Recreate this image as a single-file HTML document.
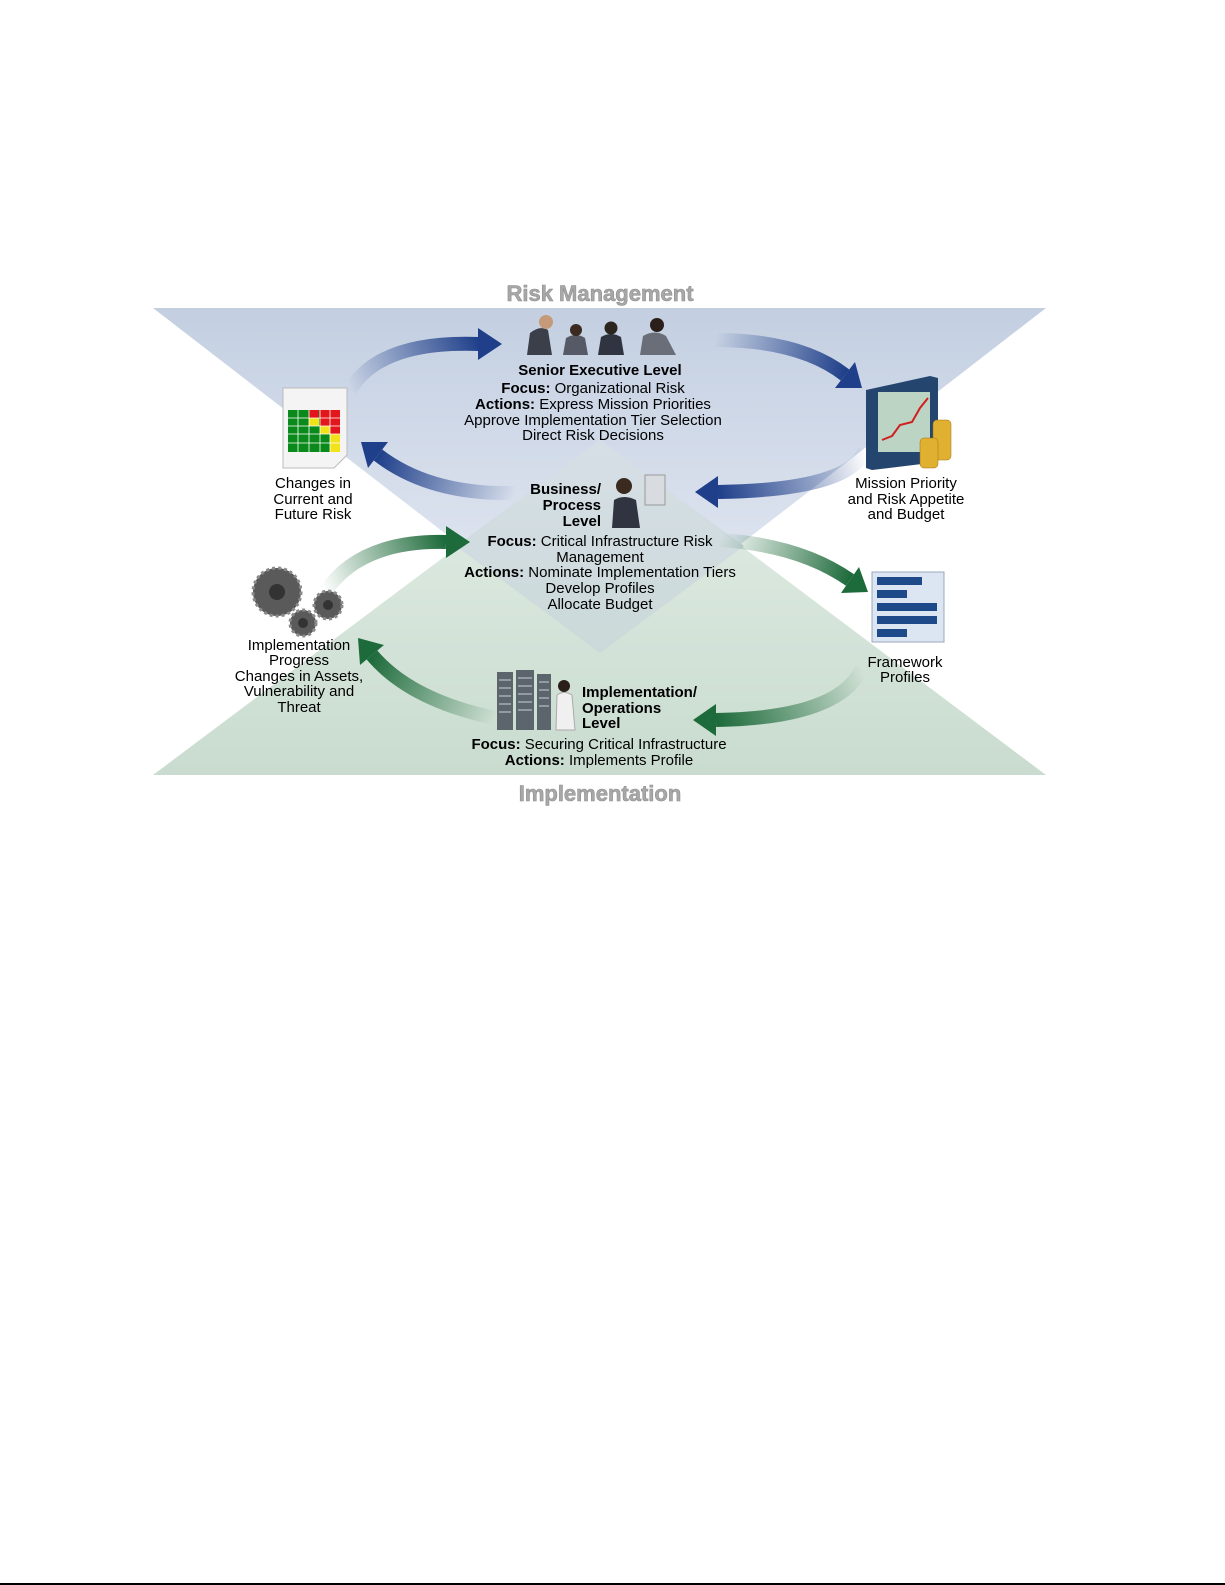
<!DOCTYPE html>
<html><head><meta charset="utf-8"><style>
html,body{margin:0;padding:0;background:#fff;}
svg{display:block;}
text{font-family:"Liberation Sans",sans-serif;font-size:15px;fill:#000;}
.b{font-weight:bold;}
</style></head><body>
<svg width="1225" height="1585" viewBox="0 0 1225 1585" xmlns="http://www.w3.org/2000/svg">
<defs>
<linearGradient id="topg" x1="0" y1="308" x2="0" y2="653" gradientUnits="userSpaceOnUse">
<stop offset="0" stop-color="#c3cfe1"/><stop offset="1" stop-color="#e8ecf5"/></linearGradient>
<linearGradient id="botg" x1="0" y1="440" x2="0" y2="775" gradientUnits="userSpaceOnUse">
<stop offset="0" stop-color="#e3ede6"/><stop offset="1" stop-color="#c9dccf"/></linearGradient>
<linearGradient id="dg" x1="0" y1="440" x2="0" y2="653" gradientUnits="userSpaceOnUse">
<stop offset="0" stop-color="#d6dfe6"/><stop offset="1" stop-color="#cbd9d9"/></linearGradient>
<linearGradient id="a1" x1="350" y1="390" x2="480" y2="344" gradientUnits="userSpaceOnUse"><stop offset="0" stop-color="#1f3f8a" stop-opacity="0"/><stop offset="1" stop-color="#1f3f8a"/></linearGradient>
<linearGradient id="a2" x1="715" y1="340" x2="845" y2="375" gradientUnits="userSpaceOnUse"><stop offset="0" stop-color="#1f3f8a" stop-opacity="0"/><stop offset="1" stop-color="#1f3f8a"/></linearGradient>
<linearGradient id="a3" x1="865" y1="450" x2="718" y2="492" gradientUnits="userSpaceOnUse"><stop offset="0" stop-color="#1f3f8a" stop-opacity="0"/><stop offset="1" stop-color="#1f3f8a"/></linearGradient>
<linearGradient id="a4" x1="515" y1="493" x2="378" y2="455" gradientUnits="userSpaceOnUse"><stop offset="0" stop-color="#1f3f8a" stop-opacity="0"/><stop offset="1" stop-color="#1f3f8a"/></linearGradient>
<linearGradient id="a5" x1="325" y1="592" x2="446" y2="542" gradientUnits="userSpaceOnUse"><stop offset="0" stop-color="#1d6a3a" stop-opacity="0"/><stop offset="1" stop-color="#1d6a3a"/></linearGradient>
<linearGradient id="a6" x1="720" y1="540" x2="850" y2="580" gradientUnits="userSpaceOnUse"><stop offset="0" stop-color="#1d6a3a" stop-opacity="0"/><stop offset="1" stop-color="#1d6a3a"/></linearGradient>
<linearGradient id="a7" x1="862" y1="668" x2="716" y2="720" gradientUnits="userSpaceOnUse"><stop offset="0" stop-color="#1d6a3a" stop-opacity="0"/><stop offset="1" stop-color="#1d6a3a"/></linearGradient>
<linearGradient id="a8" x1="495" y1="718" x2="372" y2="655" gradientUnits="userSpaceOnUse"><stop offset="0" stop-color="#1d6a3a" stop-opacity="0"/><stop offset="1" stop-color="#1d6a3a"/></linearGradient>
</defs>

<polygon points="153,308 1046,308 600,653" fill="url(#topg)"/>
<polygon points="153,775 1046,775 600,440" fill="url(#botg)"/>
<polygon points="600,440 456,546 600,653 744,546" fill="url(#dg)"/>

<text x="600" y="301" text-anchor="middle" class="b" style="font-size:22px;fill:#a8a8a8;stroke:#8e8e8e;stroke-width:0.6">Risk Management</text>
<text x="600" y="801" text-anchor="middle" class="b" style="font-size:22px;fill:#a8a8a8;stroke:#8e8e8e;stroke-width:0.6">Implementation</text>

<g fill="none" stroke-width="14">
<path d="M350,390 Q380,340 480,344" stroke="url(#a1)"/>
<path d="M715,340 Q800,340 845,375" stroke="url(#a2)"/>
<path d="M865,450 Q850,490 718,492" stroke="url(#a3)"/>
<path d="M515,493 Q430,495 378,455" stroke="url(#a4)"/>
<path d="M325,592 Q360,540 446,542" stroke="url(#a5)"/>
<path d="M720,540 Q800,545 850,580" stroke="url(#a6)"/>
<path d="M862,668 Q840,718 716,720" stroke="url(#a7)"/>
<path d="M495,718 Q410,700 372,655" stroke="url(#a8)"/>
</g>
<polygon points="502,344 478,328 478,360" fill="#1f3f8a"/>
<polygon points="862,388 835,388 855,362" fill="#1f3f8a"/>
<polygon points="695,492 718,476 718,508" fill="#1f3f8a"/>
<polygon points="361,442 388,442 368,468" fill="#1f3f8a"/>
<polygon points="470,542 446,526 446,558" fill="#1d6a3a"/>
<polygon points="868,592 841,593 859,567" fill="#1d6a3a"/>
<polygon points="693,720 716,704 716,736" fill="#1d6a3a"/>
<polygon points="358,638 384,645 360,665" fill="#1d6a3a"/>

<g>
<path d="M527,355 L530,333 Q540,325 548,330 L552,355 Z" fill="#3a3f4a"/><circle cx="546" cy="322" r="7" fill="#c49a78"/>
<path d="M563,355 L566,338 Q576,332 585,338 L588,355 Z" fill="#555a66"/><circle cx="576" cy="330" r="6" fill="#3a2a20"/>
<path d="M598,355 L601,337 Q611,331 621,337 L624,355 Z" fill="#2f3440"/><circle cx="611" cy="328" r="6.5" fill="#2a2520"/>
<path d="M640,355 L643,336 Q655,329 666,336 L676,355 Z" fill="#6a6e78"/><circle cx="657" cy="325" r="7" fill="#2a1f1a"/>
</g>

<path d="M283,388 L347,388 L347,455 L334,468 L283,468 Z" fill="#f4f4f4" stroke="#bbb"/>
<g>
<rect x="288" y="410" width="52" height="42" fill="#0a8a1a"/>
<rect x="309" y="410" width="10" height="8" fill="#e3161b"/><rect x="320" y="410" width="10" height="8" fill="#e3161b"/><rect x="330" y="410" width="10" height="8" fill="#e3161b"/>
<rect x="309" y="418" width="10" height="8" fill="#f2e21a"/><rect x="320" y="418" width="10" height="8" fill="#e3161b"/><rect x="330" y="418" width="10" height="8" fill="#e3161b"/>
<rect x="320" y="426" width="10" height="8" fill="#f2e21a"/><rect x="330" y="426" width="10" height="8" fill="#e3161b"/>
<rect x="330" y="434" width="10" height="9" fill="#f2e21a"/><rect x="330" y="443" width="10" height="9" fill="#f2e21a"/>
<path d="M288,418H340M288,426H340M288,434H340M288,443H340M298,410V452M309,410V452M320,410V452M330,410V452" stroke="#fff" stroke-width="0.8"/>
</g>

<path d="M866,390 L930,376 L938,378 L938,462 L872,470 L866,468 Z" fill="#24456e"/>
<rect x="878" y="392" width="52" height="60" fill="#bcd4c4"/>
<path d="M882,440 L892,436 L900,425 L912,422 L920,408 L928,398" stroke="#d02020" stroke-width="2" fill="none"/>
<g fill="#e0b030" stroke="#a07010" stroke-width="0.5">
<rect x="933" y="420" width="18" height="40" rx="4"/><rect x="920" y="438" width="18" height="30" rx="4"/>
</g>

<rect x="872" y="572" width="72" height="70" fill="#dce6f2" stroke="#9aa8bc"/>
<g fill="#1f4a8a"><rect x="877" y="577" width="45" height="8"/><rect x="877" y="590" width="30" height="8"/><rect x="877" y="603" width="60" height="8"/><rect x="877" y="616" width="60" height="8"/><rect x="877" y="629" width="30" height="8"/></g>

<g fill="#5a5a5a" stroke="#8a8a8a" stroke-width="3" stroke-dasharray="3 3">
<circle cx="277" cy="592" r="24"/><circle cx="328" cy="605" r="14"/><circle cx="303" cy="623" r="13"/>
</g>
<g fill="#333"><circle cx="277" cy="592" r="8"/><circle cx="328" cy="605" r="5"/><circle cx="303" cy="623" r="5"/></g>

<rect x="645" y="475" width="20" height="30" fill="#d8dce0" stroke="#999"/>
<circle cx="624" cy="486" r="8" fill="#3a2a20"/>
<path d="M612,528 L614,500 Q624,494 636,500 L640,528 Z" fill="#2f3440"/>

<g fill="#5c646c"><rect x="497" y="672" width="16" height="58"/><rect x="516" y="670" width="18" height="60"/><rect x="537" y="674" width="14" height="56"/></g>
<g stroke="#c8d0d8" stroke-width="1"><path d="M499,680H511M499,688H511M499,696H511M499,704H511M499,712H511M518,678H532M518,686H532M518,694H532M518,702H532M518,710H532M539,682H549M539,690H549M539,698H549M539,706H549"/></g>
<circle cx="564" cy="686" r="6" fill="#2a1f1a"/><path d="M556,730 L557,695 Q564,690 572,695 L575,730 Z" fill="#f0f0f0" stroke="#aaa"/>

<g text-anchor="middle">
<text x="600" y="375" class="b">Senior Executive Level</text>
<text x="593" y="393"><tspan class="b">Focus:</tspan> Organizational Risk</text>
<text x="593" y="409"><tspan class="b">Actions:</tspan> Express Mission Priorities</text>
<text x="593" y="425">Approve Implementation Tier Selection</text>
<text x="593" y="440">Direct Risk Decisions</text>

<text x="600" y="546"><tspan class="b">Focus:</tspan> Critical Infrastructure Risk</text>
<text x="600" y="562">Management</text>
<text x="600" y="577"><tspan class="b">Actions:</tspan> Nominate Implementation Tiers</text>
<text x="600" y="593">Develop Profiles</text>
<text x="600" y="609">Allocate Budget</text>

<text x="599" y="749"><tspan class="b">Focus:</tspan> Securing Critical Infrastructure</text>
<text x="599" y="765"><tspan class="b">Actions:</tspan> Implements Profile</text>

<text x="313" y="488">Changes in</text>
<text x="313" y="504">Current and</text>
<text x="313" y="519">Future Risk</text>

<text x="906" y="488">Mission Priority</text>
<text x="906" y="504">and Risk Appetite</text>
<text x="906" y="519">and Budget</text>

<text x="905" y="667">Framework</text>
<text x="905" y="682">Profiles</text>

<text x="299" y="650">Implementation</text>
<text x="299" y="665">Progress</text>
<text x="299" y="681">Changes in Assets,</text>
<text x="299" y="696">Vulnerability and</text>
<text x="299" y="712">Threat</text>
</g>
<g text-anchor="end">
<text x="601" y="494" class="b">Business/</text>
<text x="601" y="510" class="b">Process</text>
<text x="601" y="526" class="b">Level</text>
</g>
<text x="582" y="697" class="b">Implementation/</text>
<text x="582" y="713" class="b">Operations</text>
<text x="582" y="728" class="b">Level</text>

<rect x="0" y="1583" width="1225" height="2" fill="#000"/>
</svg>
</body></html>
